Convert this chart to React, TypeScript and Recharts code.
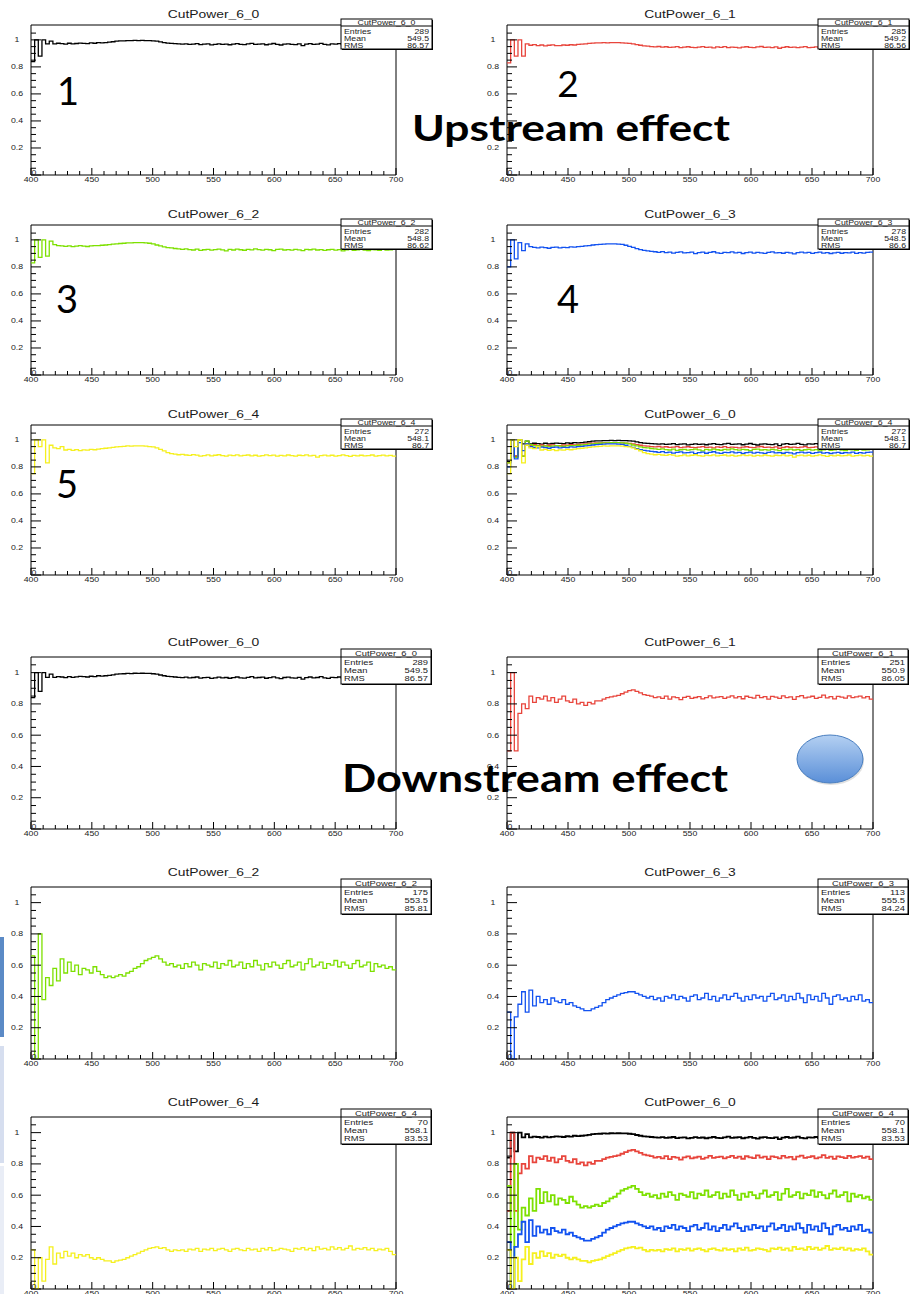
import { LineChart, Line, XAxis, YAxis, ReferenceArea } from "recharts";

// histogram binning of the efficiency curves
const X_START = 400;
const X_END = 700;
const BIN_WIDTH = 3;

const X_TICKS = [
  400, 410, 420, 430, 440, 450, 460, 470, 480, 490, 500, 510, 520, 530, 540, 550,
  560, 570, 580, 590, 600, 610, 620, 630, 640, 650, 660, 670, 680, 690, 700,
];
const Y_TICKS = [
  0, 0.05, 0.1, 0.15, 0.2, 0.25, 0.3, 0.35, 0.4, 0.45, 0.5, 0.55, 0.6, 0.65, 0.7,
  0.75, 0.8, 0.85, 0.9, 0.95, 1, 1.05,
];

// upstream cut efficiencies (one value per 3-unit bin, 400..697)
const UP_0 = [
  0.84, 1.0, 0.88, 1.0, 0.97, 0.99, 0.97, 0.975, 0.972, 0.968,
  0.975, 0.97, 0.973, 0.976, 0.974, 0.972, 0.977, 0.975, 0.98, 0.978,
  0.98, 0.983, 0.986, 0.99, 0.992, 0.993, 0.995, 0.994, 0.996, 0.995,
  0.996, 0.995, 0.995, 0.993, 0.99, 0.985, 0.98, 0.976, 0.974, 0.972,
  0.97, 0.968, 0.971, 0.966, 0.969, 0.972, 0.965, 0.968, 0.97, 0.963,
  0.967, 0.971, 0.966, 0.969, 0.964, 0.968, 0.972, 0.967, 0.965, 0.97,
  0.974, 0.966, 0.969, 0.971, 0.964, 0.968, 0.973, 0.966, 0.962, 0.969,
  0.971, 0.967, 0.965, 0.97, 0.958, 0.968, 0.972, 0.966, 0.969, 0.974,
  0.967, 0.963, 0.97, 0.968, 0.972, 0.965, 0.969, 0.96, 0.967, 0.971,
  0.966, 0.969, 0.964, 0.97, 0.967, 0.972, 0.965, 0.969, 0.966, 0.968,
];
const UP_1 = [
  0.83, 1.0, 0.88, 1.0, 0.88, 0.97, 0.96, 0.965, 0.958, 0.962,
  0.955, 0.96, 0.963, 0.958, 0.957, 0.962, 0.96, 0.964, 0.962, 0.966,
  0.968, 0.97, 0.974, 0.976, 0.978, 0.977, 0.979, 0.978, 0.98, 0.979,
  0.98, 0.978, 0.976, 0.974, 0.97, 0.965, 0.96, 0.956, 0.953, 0.95,
  0.948, 0.951, 0.946, 0.949, 0.944, 0.947, 0.95, 0.943, 0.946, 0.949,
  0.945, 0.942, 0.947, 0.95, 0.944, 0.946, 0.941, 0.948, 0.945, 0.95,
  0.943, 0.947, 0.944, 0.94, 0.946, 0.949, 0.945, 0.942, 0.948, 0.951,
  0.944, 0.946, 0.943, 0.948, 0.938, 0.945, 0.949, 0.944, 0.947, 0.942,
  0.946, 0.95, 0.943, 0.945, 0.948, 0.941, 0.946, 0.944, 0.949, 0.943,
  0.936, 0.945, 0.947, 0.942, 0.946, 0.944, 0.948, 0.943, 0.945, 0.947,
];
const UP_2 = [
  0.83, 1.0, 0.87, 1.0, 0.88, 0.99, 0.965, 0.958, 0.955, 0.952,
  0.956, 0.95, 0.953, 0.957, 0.954, 0.951, 0.955, 0.958, 0.957, 0.96,
  0.962, 0.965, 0.968, 0.97, 0.973, 0.975, 0.977, 0.978, 0.98, 0.979,
  0.98, 0.978, 0.975, 0.97, 0.962, 0.955, 0.948, 0.943, 0.94, 0.936,
  0.933, 0.93, 0.934, 0.928, 0.925, 0.931, 0.922, 0.927, 0.93, 0.924,
  0.928, 0.932, 0.926, 0.918, 0.929, 0.925, 0.931, 0.927, 0.923, 0.93,
  0.926, 0.933, 0.928, 0.924, 0.93, 0.927, 0.921, 0.929, 0.932, 0.925,
  0.928, 0.924, 0.93, 0.926, 0.92, 0.929, 0.927, 0.931, 0.925, 0.928,
  0.922, 0.927, 0.93, 0.924, 0.928, 0.919, 0.926, 0.929, 0.923, 0.927,
  0.93, 0.925, 0.92, 0.928, 0.926, 0.923, 0.929, 0.925, 0.927, 0.93,
];
const UP_3 = [
  0.8, 1.0, 0.86, 0.98, 0.92, 0.97, 0.95, 0.944, 0.94, 0.946,
  0.942, 0.938, 0.944, 0.947, 0.941, 0.945, 0.943, 0.948, 0.946, 0.95,
  0.952, 0.955, 0.958, 0.962, 0.965, 0.967, 0.969, 0.97, 0.971, 0.97,
  0.969, 0.966, 0.96, 0.952, 0.944, 0.935, 0.928, 0.922, 0.918, 0.915,
  0.912, 0.908, 0.913, 0.905, 0.909, 0.902, 0.907, 0.911, 0.903, 0.906,
  0.91, 0.898, 0.905, 0.909, 0.901, 0.907, 0.912, 0.904, 0.9, 0.908,
  0.905, 0.911, 0.903, 0.907, 0.899, 0.906, 0.91, 0.902, 0.908, 0.904,
  0.9, 0.907, 0.911, 0.903, 0.906, 0.901, 0.908, 0.904, 0.897, 0.906,
  0.909, 0.903, 0.907, 0.9, 0.905, 0.91, 0.902, 0.906, 0.899, 0.904,
  0.908, 0.901, 0.906, 0.903, 0.909, 0.9, 0.905, 0.902, 0.907, 0.91,
];
const UP_4 = [
  0.75, 1.0, 0.95, 1.0, 0.83, 0.96, 0.94, 0.935, 0.95, 0.925,
  0.93, 0.922, 0.928, 0.92, 0.926, 0.924, 0.93, 0.927, 0.932, 0.935,
  0.938, 0.94, 0.945, 0.948, 0.95, 0.952, 0.955, 0.954, 0.956, 0.955,
  0.956, 0.954, 0.95, 0.948, 0.94, 0.93, 0.918, 0.905, 0.898, 0.895,
  0.89, 0.893, 0.888, 0.885, 0.891, 0.887, 0.88, 0.884, 0.889, 0.882,
  0.886, 0.89, 0.883, 0.879, 0.887, 0.884, 0.889, 0.881, 0.885, 0.888,
  0.882, 0.886, 0.879, 0.884, 0.889, 0.883, 0.887, 0.88, 0.885, 0.882,
  0.888, 0.884, 0.879, 0.886, 0.883, 0.889, 0.881, 0.885, 0.872, 0.884,
  0.887, 0.882, 0.886, 0.88, 0.884, 0.889, 0.883, 0.878, 0.885, 0.882,
  0.886, 0.881, 0.884, 0.888, 0.88, 0.883, 0.887, 0.882, 0.885, 0.88,
];

// downstream cut efficiencies
const DOWN_1 = [
  0.5, 1.0, 0.5, 0.74, 0.8, 0.77, 0.85, 0.81, 0.84, 0.83,
  0.85, 0.82, 0.84, 0.81, 0.83, 0.85, 0.82, 0.81, 0.83, 0.8,
  0.81, 0.79, 0.81, 0.8, 0.82, 0.82, 0.83, 0.84, 0.845, 0.85,
  0.855, 0.865, 0.875, 0.885, 0.89, 0.88, 0.87, 0.86, 0.855, 0.85,
  0.84, 0.845, 0.835, 0.85, 0.83, 0.845, 0.84, 0.828, 0.842, 0.848,
  0.835, 0.841, 0.846, 0.832, 0.84, 0.851, 0.838, 0.843, 0.847, 0.836,
  0.844, 0.852, 0.839, 0.846, 0.833, 0.849, 0.842, 0.837, 0.855, 0.84,
  0.846, 0.831, 0.848, 0.843, 0.836, 0.851, 0.84, 0.845, 0.829, 0.847,
  0.853, 0.838, 0.844, 0.849, 0.835, 0.842, 0.856, 0.839, 0.846, 0.832,
  0.848, 0.843, 0.837, 0.852, 0.84, 0.845, 0.85, 0.838, 0.846, 0.83,
];
const DOWN_2 = [
  0.66, 0.0, 0.8, 0.38, 0.52, 0.47, 0.58, 0.5, 0.64, 0.55,
  0.62, 0.56, 0.6, 0.54, 0.58, 0.57, 0.55, 0.59, 0.56, 0.54,
  0.52, 0.53, 0.52, 0.53, 0.54, 0.53, 0.55, 0.56, 0.58, 0.59,
  0.61, 0.63, 0.64, 0.65, 0.66, 0.64, 0.62, 0.6, 0.61, 0.59,
  0.6, 0.58, 0.61, 0.59, 0.62, 0.6, 0.57, 0.61, 0.6, 0.59,
  0.62, 0.58, 0.61, 0.6, 0.63, 0.59, 0.6, 0.62, 0.58, 0.61,
  0.59, 0.63, 0.6, 0.57, 0.61, 0.59, 0.62, 0.6, 0.58, 0.61,
  0.63, 0.59, 0.6, 0.62, 0.57, 0.61, 0.64, 0.59, 0.6, 0.62,
  0.58, 0.61, 0.6, 0.63, 0.59, 0.62, 0.6, 0.58, 0.61, 0.63,
  0.59, 0.6, 0.62, 0.56, 0.61, 0.59, 0.6, 0.58, 0.59, 0.57,
];
const DOWN_3 = [
  0.3, 0.0, 0.27, 0.35, 0.43, 0.3, 0.44, 0.34, 0.4, 0.36,
  0.38, 0.35, 0.39, 0.37, 0.36, 0.38, 0.35, 0.36, 0.34, 0.33,
  0.32, 0.31, 0.31, 0.32, 0.33, 0.34, 0.36, 0.38, 0.39, 0.4,
  0.41, 0.42, 0.425, 0.43, 0.43, 0.42, 0.41, 0.4, 0.39, 0.4,
  0.38, 0.39, 0.37, 0.4, 0.39, 0.41, 0.38, 0.4, 0.39, 0.37,
  0.4, 0.41, 0.38, 0.39, 0.42, 0.38, 0.4, 0.37, 0.39, 0.41,
  0.38, 0.4, 0.42, 0.39, 0.37, 0.4, 0.38, 0.41, 0.39, 0.4,
  0.37, 0.4, 0.42, 0.38, 0.39, 0.41, 0.37, 0.4, 0.38, 0.42,
  0.39, 0.36, 0.41, 0.38, 0.4, 0.37, 0.42, 0.39, 0.35, 0.4,
  0.41, 0.38, 0.39, 0.37, 0.4, 0.38, 0.41, 0.37, 0.38, 0.36,
];
const DOWN_4 = [
  0.25, 0.0, 0.2, 0.05, 0.19, 0.27, 0.16, 0.23, 0.2, 0.24,
  0.21, 0.23, 0.2, 0.22, 0.21, 0.22, 0.2, 0.19, 0.2, 0.19,
  0.18, 0.18, 0.17, 0.18, 0.185, 0.19, 0.2, 0.21, 0.22, 0.23,
  0.24, 0.25, 0.26, 0.265, 0.27, 0.26, 0.265, 0.25, 0.24, 0.25,
  0.245, 0.25, 0.24, 0.255, 0.25, 0.26, 0.24, 0.255, 0.25, 0.26,
  0.245, 0.255, 0.26, 0.25, 0.24, 0.255, 0.26, 0.25, 0.245, 0.26,
  0.25, 0.255, 0.24, 0.26, 0.25, 0.265, 0.245, 0.25, 0.26, 0.255,
  0.25, 0.24, 0.26, 0.255, 0.265, 0.25, 0.26, 0.245, 0.27, 0.255,
  0.26, 0.25, 0.27, 0.255, 0.265, 0.25, 0.26, 0.275, 0.25, 0.26,
  0.255, 0.265, 0.25, 0.26, 0.245, 0.255, 0.25, 0.26, 0.24, 0.22,
];

const SERIES: Record<string, number[]> = {
  up0: UP_0, up1: UP_1, up2: UP_2, up3: UP_3, up4: UP_4,
  down1: DOWN_1, down2: DOWN_2, down3: DOWN_3, down4: DOWN_4,
};

const COLORS: Record<string, string> = {
  up0: "#000000", up1: "#e8453c", up2: "#7de000", up3: "#1252f0", up4: "#f5f01e",
  down1: "#e8453c", down2: "#7de000", down3: "#1252f0", down4: "#f5f01e",
};

// bin rows for the step lines, last bin closed at 700
const ROWS = (() => {
  const n = UP_0.length;
  const rows: any[] = [];
  for (let i = 0; i < n; i++) {
    const row: any = { x: X_START + i * BIN_WIDTH };
    for (const k in SERIES) row[k] = SERIES[k][i];
    rows.push(row);
  }
  rows.push({ ...rows[n - 1], x: X_END });
  return rows;
})();

// stats box contents: name, entries, mean, rms
const STATS = [
  ["CutPower_6_0", "289", "549.5", "86.57"],
  ["CutPower_6_1", "285", "549.2", "86.56"],
  ["CutPower_6_2", "282", "548.8", "86.62"],
  ["CutPower_6_3", "278", "548.5", "86.6"],
  ["CutPower_6_4", "272", "548.1", "86.7"],
  ["CutPower_6_4", "272", "548.1", "86.7"],
  ["CutPower_6_0", "289", "549.5", "86.57"],
  ["CutPower_6_1", "251", "550.9", "86.05"],
  ["CutPower_6_2", "175", "553.5", "85.81"],
  ["CutPower_6_3", "113", "555.5", "84.24"],
  ["CutPower_6_4", "70", "558.1", "83.53"],
  ["CutPower_6_4", "70", "558.1", "83.53"],
];
const TITLES = [
  "CutPower_6_0", "CutPower_6_1", "CutPower_6_2", "CutPower_6_3", "CutPower_6_4", "CutPower_6_0",
  "CutPower_6_0", "CutPower_6_1", "CutPower_6_2", "CutPower_6_3", "CutPower_6_4", "CutPower_6_0",
];
const PANEL_KEYS = [
  ["up0"], ["up1"], ["up2"], ["up3"], ["up4"], ["up0", "up1", "up2", "up3", "up4"],
  ["up0"], ["down1"], ["down2"], ["down3"], ["down4"], ["up0", "down1", "down2", "down3", "down4"],
];

const COL_LEFT = [31, 507];
const UP_TOP = [25, 225, 425];
const DOWN_TOP = [657, 887, 1117];

const PANELS = TITLES.map((title, i) => {
  const lower = i >= 6;
  const j = i % 6;
  const col = j % 2;
  const row = Math.floor(j / 2);
  return {
    title,
    stat: STATS[i],
    keys: PANEL_KEYS[i],
    lower,
    left: COL_LEFT[col],
    top: lower ? DOWN_TOP[row] : UP_TOP[row],
    w: col === 0 ? 365 : 366,
    h: lower ? 172 : 150,
    yMax: lower ? 1.1 : 1.11,
    thick: i === 11,
    // y label sitting completely under the "Upstream effect" caption
    hiddenY: i === 1 ? [0.4] : [],
  };
});

const FONT = "'Liberation Sans', Arial, sans-serif";

function RText({ x, y, size, anchor = "start", sx = 1.25, children, fill = "#1a1a1a" }: any) {
  return (
    <text
      transform={`translate(${x} ${y}) scale(${sx} 1)`}
      fontSize={size}
      textAnchor={anchor}
      fontFamily={FONT}
      fill={fill}
    >
      {children}
    </text>
  );
}

function XTick(props: any) {
  const { x, y, payload } = props;
  const v = payload.value;
  const major = v % 50 === 0;
  return (
    <g>
      <line x1={x} x2={x} y1={y} y2={y - (major ? 7 : 4)} stroke="#000" strokeWidth={1} />
      {major && (
        <RText x={x} y={y + 7} size={7} anchor="middle">
          {v}
        </RText>
      )}
    </g>
  );
}

function YTick(props: any) {
  const { x, y, payload, hidden } = props;
  const v = payload.value;
  const major = Math.round(v * 100) % 20 === 0;
  let label = null;
  if (major && v === 0) {
    label = (
      <RText x={x + 0.5} y={y} size={7}>
        0
      </RText>
    );
  } else if (major && !hidden.includes(v)) {
    label = (
      <RText x={x - 14} y={y + 2.5} size={7} anchor="middle">
        {v === 1 ? "1" : v.toFixed(1)}
      </RText>
    );
  }
  return (
    <g>
      <line x1={x} x2={x + (major ? 10 : 5)} y1={y} y2={y} stroke="#000" strokeWidth={1} />
      {label}
    </g>
  );
}

function Panel({ p }: any) {
  // axes are 1px thick so that Recharts renders their ticks
  const ML = 30;
  const MT = 20;
  const MR = 12;
  const MB = 13;
  return (
    <div style={{ position: "absolute", left: p.left - ML - 1, top: p.top - MT }}>
      <LineChart
        width={p.w + ML + 1 + MR}
        height={p.h + MT + MB + 1}
        data={ROWS}
        margin={{ top: MT, left: ML, right: MR, bottom: MB }}
      >
        <XAxis
          type="number"
          dataKey="x"
          domain={[X_START, X_END]}
          ticks={X_TICKS}
          interval={0}
          height={1}
          tickSize={0}
          tickMargin={0}
          axisLine={false}
          tickLine={false}
          allowDataOverflow
          tick={(t: any) => <XTick {...t} />}
        />
        <YAxis
          type="number"
          domain={[0, p.yMax]}
          ticks={Y_TICKS}
          interval={0}
          width={1}
          tickSize={0}
          tickMargin={0}
          axisLine={false}
          tickLine={false}
          allowDataOverflow
          tick={(t: any) => <YTick {...t} hidden={p.hiddenY} />}
        />
        <ReferenceArea
          x1={X_START}
          x2={X_END}
          y1={0}
          y2={p.yMax}
          fill="none"
          stroke="#000"
          strokeWidth={1}
          ifOverflow="visible"
        />
        {p.keys.map((k: string) => (
          <Line
            key={k}
            dataKey={k}
            type="stepAfter"
            stroke={COLORS[k]}
            strokeWidth={p.thick ? 1.8 : 1.3}
            dot={false}
            isAnimationActive={false}
          />
        ))}
      </LineChart>
    </div>
  );
}

function StatsBox({ p }: any) {
  const right = p.left + p.w + (p.lower ? 35 : 36);
  const w = p.lower ? 90 : 91;
  const x = right - w;
  const T = p.top - (p.lower ? 8 : 6);
  const h = p.lower ? 35 : 30;
  const div = p.lower ? 8 : 7;
  const rows = p.lower ? [15.5, 23.5, 31.5] : [14.5, 21.5, 28.5];
  const [name, entries, mean, rms] = p.stat;
  const size = p.lower ? 7.5 : 7;
  return (
    <g>
      <rect x={x + 1} y={T + 1} width={w} height={h} fill="#000" />
      <rect x={x} y={T} width={w} height={h} fill="#fff" stroke="#000" strokeWidth={1} />
      <line x1={x} x2={x + w} y1={T + div} y2={T + div} stroke="#000" strokeWidth={1} />
      <RText x={x + w / 2} y={T + div - 1.5} size={size} anchor="middle">
        {name}
      </RText>
      <RText x={x + 3} y={T + rows[0]} size={size}>Entries</RText>
      <RText x={x + 3} y={T + rows[1]} size={size}>Mean</RText>
      <RText x={x + 3} y={T + rows[2]} size={size}>RMS</RText>
      <RText x={x + w - 3} y={T + rows[0]} size={size} anchor="end">{entries}</RText>
      <RText x={x + w - 3} y={T + rows[1]} size={size} anchor="end">{mean}</RText>
      <RText x={x + w - 3} y={T + rows[2]} size={size} anchor="end">{rms}</RText>
    </g>
  );
}

function Overlay() {
  const big = { fontFamily: "Lato, 'Open Sans', sans-serif", fill: "#000" };
  return (
    <svg
      width={910}
      height={1294}
      style={{ position: "absolute", left: 0, top: 0, pointerEvents: "none" }}
    >
      <defs>
        <linearGradient id="blob" x1="0" y1="0" x2="0" y2="1">
          <stop offset="0" stopColor="#b4d0f2" />
          <stop offset="1" stopColor="#5a8fd8" />
        </linearGradient>
      </defs>
      {/* slide edge decoration */}
      <rect x={0} y={937} width={4} height={100} fill="#5b8ac6" />
      <rect x={0} y={1046} width={4} height={117} fill="#d6deef" />
      <rect x={0} y={1166} width={4} height={128} fill="#e9edf6" />

      {PANELS.map((p, i) => (
        <g key={i}>
          <RText x={p.left + p.w / 2} y={p.top - (p.lower ? 11 : 7)} size={11} anchor="middle" sx={1.26}>
            {p.title}
          </RText>
          <StatsBox p={p} />
        </g>
      ))}

      <text x={68} y={105} fontSize={38} textAnchor="middle" {...big}>1</text>
      <text x={568} y={97} fontSize={37} textAnchor="middle" {...big}>2</text>
      <text x={67} y={313} fontSize={38} textAnchor="middle" {...big}>3</text>
      <text x={568} y={313} fontSize={38} textAnchor="middle" {...big}>4</text>
      <text x={67} y={498} fontSize={38} textAnchor="middle" {...big}>5</text>

      <text x={412} y={141} fontSize={37} fontWeight={700} textLength={318} lengthAdjust="spacingAndGlyphs" {...big}>
        Upstream effect
      </text>
      <text x={342} y={792} fontSize={39} fontWeight={700} textLength={386} lengthAdjust="spacingAndGlyphs" {...big}>
        Downstream effect
      </text>

      <ellipse cx={831} cy={761} rx={33} ry={24} fill="#000" opacity={0.12} />
      <ellipse cx={830} cy={759} rx={33} ry={24} fill="url(#blob)" stroke="#4a7fc0" strokeWidth={1} />
    </svg>
  );
}

export default function App() {
  return (
    <div
      style={{
        position: "absolute",
        left: 0,
        top: 0,
        width: 910,
        height: 1294,
        overflow: "hidden",
        background: "#fff",
      }}
    >
      {PANELS.map((p, i) => (
        <Panel key={i} p={p} />
      ))}
      <Overlay />
    </div>
  );
}
